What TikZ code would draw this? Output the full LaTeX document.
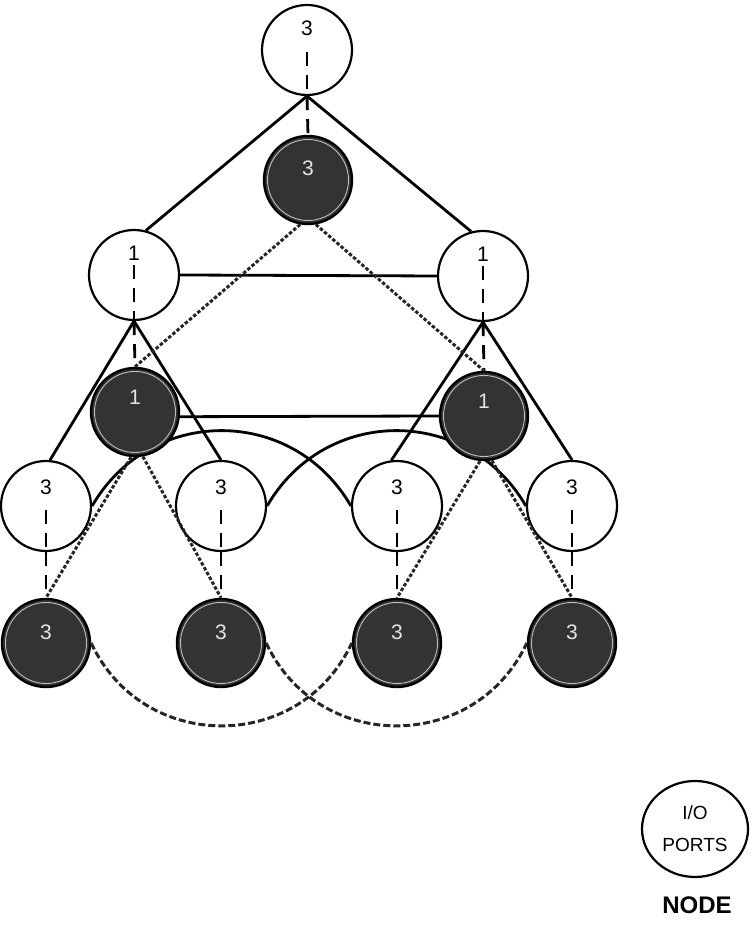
\documentclass[tikz,border=0pt]{standalone}
\usepackage{fontspec}
\setmainfont{Liberation Sans}
\usetikzlibrary{shapes.geometric}
\begin{document}
\begin{tikzpicture}[x=1pt,y=1pt,
  circ/.style={circle,draw,line width=2.2pt,minimum size=90pt,inner sep=0pt,fill=white},
  shd/.style={circle,draw,line width=2.4pt,minimum size=88pt,inner sep=0pt,fill=black!80},
  lbl/.style={font=\fontsize{21}{21}\selectfont,inner sep=0pt},
  wlbl/.style={lbl,text=white!90!black},
  solidln/.style={line width=2.8pt},
  vdash/.style={line width=2.8pt,dash pattern=on 14pt off 9pt},
  dotln/.style={line width=3pt,black!85,dash pattern=on 3.5pt off 2pt},
  arcdot/.style={line width=3pt,black!85,dash pattern=on 7pt off 3pt}
]
\useasboundingbox (0,0) rectangle (751,925);
% open circles
\node[circ] (T) at (307,875) {};
\node[circ] (L1) at (134,650) {};
\node[circ] (R1) at (483,649) {};
\node[circ] (A3) at (46,419) {};
\node[circ] (B3) at (221,419) {};
\node[circ] (C3) at (397,419) {};
\node[circ] (D3) at (572,419) {};
% solid connectors
\draw[solidln] (T.south) -- (L1.75);
\draw[solidln] (T.south) -- (R1.105);
\draw[solidln] (L1.east) -- (R1.west);
\draw[solidln] (L1.south) -- (A3.85);
\draw[solidln] (L1.south) -- (B3.north);
\draw[solidln] (R1.south) -- (C3.97);
\draw[solidln] (R1.south) -- (D3.north);
\draw[solidln] (A3.east) to[out=60,in=120,looseness=1.15] (C3.west);
\draw[solidln] (B3.east) to[out=60,in=120,looseness=1.15] (D3.west);
% dashed verticals
\draw[vdash] ([yshift=-2pt]T.center) -- (T.south);
\draw[vdash] ([yshift=10pt]L1.center) -- (L1.south);
\draw[vdash] ([yshift=10pt]R1.center) -- (R1.south);
\foreach \n in {A3,B3,C3,D3} \draw[vdash] ([yshift=-4pt]\n.center) -- (\n.south);
% shaded nodes
\node[shd] (S3) at (308,745) {};
\node[shd] (SL) at (135,513) {};
\node[shd] (SR) at (484,509) {};
\node[shd] (As) at (46,282) {};
\node[shd] (Bs) at (221,282) {};
\node[shd] (Cs) at (397,282) {};
\node[shd] (Ds) at (572,282) {};
\foreach \n in {S3,SL,SR,As,Bs,Cs,Ds} \draw[white!75!black,line width=0.9pt] (\n.center) circle (40.5pt);
% dashed links into shaded nodes
\draw[vdash] (T.south) -- (S3.north);
\draw[vdash] (L1.south) -- (SL.north);
\draw[vdash] (R1.south) -- (SR.north);
\draw[vdash] (A3.south) -- (As.north);
\draw[vdash] (B3.south) -- (Bs.north);
\draw[vdash] (C3.south) -- (Cs.north);
\draw[vdash] (D3.south) -- (Ds.north);
% solid line between shaded 1s
\draw[solidln] (SL.-6) -- (SR.west);
% dotted connectors
\draw[dotln] (S3.-100) -- (SL.north);
\draw[dotln] (S3.-80) -- (SR.north);
\draw[dotln] (SL.-95) -- (As.north);
\draw[dotln] (SL.-80) -- (Bs.north);
\draw[dotln] (SR.-95) -- (Cs.north);
\draw[dotln] (SR.-80) -- (Ds.north);
\draw[arcdot] (As.east) to[out=-65,in=-115,looseness=1.2] (Cs.west);
\draw[arcdot] (Bs.east) to[out=-65,in=-115,looseness=1.2] (Ds.west);
% labels
\node[lbl] (Tl) at ([yshift=22pt]T.center) {3};
\node[lbl] (L1l) at ([yshift=22pt]L1.center) {1};
\node[lbl] (R1l) at ([yshift=22pt]R1.center) {1};
\node[lbl] (A3l) at ([yshift=19pt]A3.center) {3};
\node[lbl] (B3l) at ([yshift=19pt]B3.center) {3};
\node[lbl] (C3l) at ([yshift=19pt]C3.center) {3};
\node[lbl] (D3l) at ([yshift=19pt]D3.center) {3};
\node[wlbl] (S3l) at ([yshift=12pt]S3.center) {3};
\node[wlbl] (SLl) at ([yshift=15pt]SL.center) {1};
\node[wlbl] (SRl) at ([yshift=15pt]SR.center) {1};
\node[wlbl] (Asl) at ([yshift=11pt]As.center) {3};
\node[wlbl] (Bsl) at ([yshift=11pt]Bs.center) {3};
\node[wlbl] (Csl) at ([yshift=11pt]Cs.center) {3};
\node[wlbl] (Dsl) at ([yshift=11pt]Ds.center) {3};
% legend
\node[ellipse,draw,line width=2.2pt,minimum width=106pt,minimum height=96pt,inner sep=0pt,
      align=center,font=\fontsize{19}{32}\selectfont] (leg) at (695,96) {I/O\\PORTS};
\node[font=\fontsize{24}{24}\selectfont\bfseries] (legt) at (697,20) {NODE};
\end{tikzpicture}
\end{document}
